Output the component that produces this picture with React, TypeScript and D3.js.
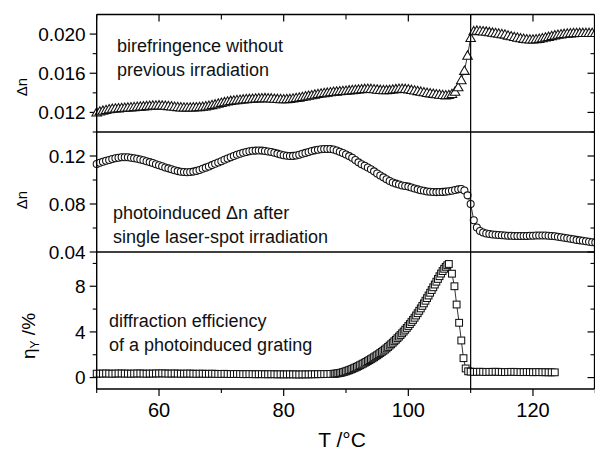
import React from 'react';
import * as d3 from 'd3';

const W = 595;
const H = 452;

// Temperature axis (°C)
const T_DOMAIN: [number, number] = [50, 130];
const T_MAJOR = [60, 80, 100, 120];
const T_MINOR = [50, 70, 90, 110, 130];
const T_LABELS = ['60', '80', '100', '120'];
const T_CLEARING = 110;

// Heating scan grid: 50 → 130 °C in 0.5 °C steps
const SCAN_START = 50;
const SCAN_STEP = 0.5;

// Birefringence without previous irradiation (Δn)
const birefringence = [
  0.01200, 0.01210, 0.01218, 0.01225, 0.01233, 0.01238, 0.01240, 0.01242, 0.01245, 0.01248,
  0.01250, 0.01252, 0.01255, 0.01258, 0.01260, 0.01262, 0.01265, 0.01268, 0.01270, 0.01270,
  0.01272, 0.01270, 0.01268, 0.01265, 0.01262, 0.01258, 0.01255, 0.01252, 0.01250, 0.01250,
  0.01250, 0.01252, 0.01253, 0.01255, 0.01258, 0.01262, 0.01268, 0.01275, 0.01282, 0.01290,
  0.01298, 0.01305, 0.01312, 0.01318, 0.01322, 0.01326, 0.01330, 0.01333, 0.01336, 0.01338,
  0.01340, 0.01342, 0.01344, 0.01345, 0.01346, 0.01345, 0.01343, 0.01340, 0.01338, 0.01336,
  0.01335, 0.01336, 0.01338, 0.01342, 0.01347, 0.01352, 0.01358, 0.01364, 0.01370, 0.01376,
  0.01382, 0.01388, 0.01393, 0.01398, 0.01402, 0.01406, 0.01410, 0.01413, 0.01416, 0.01419,
  0.01422, 0.01425, 0.01428, 0.01431, 0.01434, 0.01437, 0.01440, 0.01441, 0.01440, 0.01437,
  0.01433, 0.01430, 0.01428, 0.01428, 0.01430, 0.01434, 0.01438, 0.01441, 0.01442, 0.01440,
  0.01436, 0.01430, 0.01424, 0.01418, 0.01412, 0.01406, 0.01400, 0.01395, 0.01390, 0.01386,
  0.01382, 0.01378, 0.01375, 0.01378, 0.01388, 0.01412, 0.01458, 0.01530, 0.01625, 0.01780,
  0.01960, 0.02030, 0.02035, 0.02032, 0.02028, 0.02025, 0.02020, 0.02015, 0.02010, 0.02005,
  0.02000, 0.01995, 0.01985, 0.01978, 0.01970, 0.01964, 0.01958, 0.01952, 0.01948, 0.01945,
  0.01945, 0.01948, 0.01952, 0.01958, 0.01965, 0.01972, 0.01980, 0.01987, 0.01993, 0.01998,
  0.02002, 0.02005, 0.02008, 0.02010, 0.02011, 0.02012, 0.02012, 0.02012, 0.02012, 0.02012,
  0.02012,
];

// Photoinduced Δn after single laser-spot irradiation
const photoinduced = [
  0.1133, 0.1143, 0.1152, 0.1160, 0.1167, 0.1175, 0.1181, 0.1186, 0.1189, 0.1190,
  0.1189, 0.1186, 0.1182, 0.1177, 0.1171, 0.1164, 0.1157, 0.1149, 0.1141, 0.1132,
  0.1123, 0.1114, 0.1105, 0.1097, 0.1089, 0.1081, 0.1074, 0.1069, 0.1066, 0.1065,
  0.1066, 0.1070, 0.1076, 0.1084, 0.1093, 0.1103, 0.1113, 0.1124, 0.1135, 0.1146,
  0.1157, 0.1168, 0.1179, 0.1190, 0.1200, 0.1210, 0.1219, 0.1227, 0.1234, 0.1239,
  0.1243, 0.1245, 0.1246, 0.1245, 0.1242, 0.1238, 0.1233, 0.1227, 0.1220, 0.1213,
  0.1207, 0.1202, 0.1200, 0.1201, 0.1205, 0.1211, 0.1218, 0.1226, 0.1234, 0.1241,
  0.1247, 0.1252, 0.1256, 0.1258, 0.1259, 0.1258, 0.1254, 0.1246, 0.1236, 0.1225,
  0.1212, 0.1199, 0.1185, 0.1167, 0.1147, 0.1132, 0.1118, 0.1104, 0.1090, 0.1072,
  0.1055, 0.1038, 0.1022, 0.1007, 0.0992, 0.0980, 0.0970, 0.0962, 0.0955, 0.0950,
  0.0945, 0.0937, 0.0930, 0.0922, 0.0915, 0.0910, 0.0905, 0.0902, 0.0900, 0.0899,
  0.0900, 0.0901, 0.0903, 0.0906, 0.0910, 0.0916, 0.0922, 0.0925, 0.0912, 0.0872,
  0.0800, 0.0665, 0.0605, 0.0575, 0.0562, 0.0555, 0.0550, 0.0546, 0.0543, 0.0541,
  0.0539, 0.0537, 0.0536, 0.0535, 0.0534, 0.0534, 0.0534, 0.0534, 0.0534, 0.0535,
  0.0536, 0.0537, 0.0538, 0.0538, 0.0537, 0.0536, 0.0534, 0.0531, 0.0527, 0.0523,
  0.0519, 0.0515, 0.0511, 0.0506, 0.0501, 0.0497, 0.0493, 0.0489, 0.0485, 0.0482,
  0.0480,
];

// Diffraction efficiency of the photoinduced grating (%)
// Baseline 50 → 87.5 °C on the 0.5 °C grid
const efficiencyBase = [
  0.34, 0.35, 0.35, 0.36, 0.35, 0.34, 0.35, 0.36, 0.36, 0.35,
  0.35, 0.34, 0.35, 0.36, 0.36, 0.35, 0.34, 0.35, 0.35, 0.36,
  0.36, 0.37, 0.36, 0.35, 0.35, 0.36, 0.35, 0.34, 0.34, 0.35,
  0.35, 0.34, 0.33, 0.34, 0.34, 0.33, 0.33, 0.34, 0.33, 0.32,
  0.32, 0.33, 0.32, 0.31, 0.31, 0.32, 0.31, 0.30, 0.30, 0.31,
  0.30, 0.29, 0.30, 0.30, 0.29, 0.29, 0.30, 0.29, 0.28, 0.29,
  0.28, 0.28, 0.29, 0.28, 0.28, 0.27, 0.28, 0.28, 0.28, 0.29,
  0.29, 0.30, 0.30, 0.31, 0.31, 0.32,
];
// Growth 88 → 106.5 °C, recorded every 0.25 °C
const CLIMB_START = 88;
const CLIMB_STEP = 0.25;
const efficiencyClimb = [
  0.33, 0.34, 0.36, 0.38, 0.40, 0.43, 0.47, 0.51, 0.55, 0.60,
  0.65, 0.70, 0.76, 0.82, 0.88, 0.94, 1.01, 1.08, 1.15, 1.22,
  1.30, 1.37, 1.45, 1.53, 1.61, 1.69, 1.78, 1.87, 1.96, 2.05,
  2.15, 2.25, 2.35, 2.45, 2.56, 2.68, 2.80, 2.92, 3.05, 3.18,
  3.31, 3.45, 3.59, 3.73, 3.88, 4.03, 4.19, 4.35, 4.52, 4.69,
  4.87, 5.05, 5.24, 5.44, 5.64, 5.85, 6.06, 6.28, 6.50, 6.73,
  6.96, 7.19, 7.43, 7.67, 7.91, 8.15, 8.40, 8.64, 8.88, 9.11,
  9.33, 9.53, 9.70, 9.84, 9.95,
];
// Collapse near the clearing point
const efficiencyDropTemps = [107.0, 107.4, 107.75, 108.15, 108.5, 108.85, 109.2, 109.6];
const efficiencyDrop = [9.1, 8.0, 6.4, 4.8, 3.25, 1.7, 0.8, 0.55];
// Isotropic phase, 110 → 123.5 °C
const TAIL_START = 110;
const efficiencyTail = [
  0.52, 0.50, 0.50, 0.51, 0.50, 0.49, 0.50, 0.50, 0.51, 0.50,
  0.49, 0.48, 0.49, 0.50, 0.50, 0.49, 0.48, 0.48, 0.49, 0.48,
  0.47, 0.48, 0.48, 0.47, 0.47, 0.46, 0.46, 0.46,
];

type Pt = [number, number];

const gridSeries = (vals: number[], start: number, step: number): Pt[] =>
  vals.map((v, i) => [start + i * step, v]);

const birefringencePts = gridSeries(birefringence, SCAN_START, SCAN_STEP);
const photoinducedPts = gridSeries(photoinduced, SCAN_START, SCAN_STEP);
const efficiencyPts: Pt[] = [
  ...gridSeries(efficiencyBase, SCAN_START, SCAN_STEP),
  ...gridSeries(efficiencyClimb, CLIMB_START, CLIMB_STEP),
  ...efficiencyDrop.map((v, i) => [efficiencyDropTemps[i], v] as Pt),
  ...gridSeries(efficiencyTail, TAIL_START, SCAN_STEP),
];

// Panel layout and y-axes
const panels = [
  {
    key: 'bire',
    top: 14.5,
    bottom: 132,
    domain: [0.010, 0.022],
    major: [0.012, 0.016, 0.020],
    minor: [0.010, 0.014, 0.018],
    tickText: ['0.012', '0.016', '0.020'],
    pts: birefringencePts,
    marker: 'triangle',
    text: ['birefringence without', 'previous irradiation'],
    textX: 117,
    textY: 52,
  },
  {
    key: 'photo',
    top: 132,
    bottom: 252,
    domain: [0.04, 0.14],
    major: [0.04, 0.08, 0.12],
    minor: [0.06, 0.10],
    tickText: ['0.04', '0.08', '0.12'],
    pts: photoinducedPts,
    marker: 'circle',
    text: ['photoinduced \u0394n after', 'single laser-spot irradiation'],
    textX: 113,
    textY: 219,
  },
  {
    key: 'eff',
    top: 252,
    bottom: 389,
    domain: [-1, 11],
    major: [0, 4, 8],
    minor: [2, 6, 10],
    tickText: ['0', '4', '8'],
    pts: efficiencyPts,
    marker: 'square',
    text: ['diffraction efficiency', 'of a photoinduced grating'],
    textX: 109,
    textY: 327,
  },
];

const FONT = "'Liberation Sans', Arial, Helvetica, sans-serif";

export default function App() {
  const x = d3.scaleLinear().domain(T_DOMAIN).range([96.7, 595.3]);
  const left = x(T_DOMAIN[0]);
  const right = 594.5;
  const plotTop = panels[0].top;
  const plotBottom = panels[2].bottom;
  const triangle = d3.symbol(d3.symbolTriangle, 40)()!;

  const markerFor = (kind: string, cx: number, cy: number, k: number) => {
    const common = { fill: '#fff', stroke: '#111', strokeWidth: 1.05 };
    if (kind === 'circle') return <circle key={k} cx={cx} cy={cy} r={3.5} {...common} />;
    if (kind === 'square')
      return <rect key={k} x={cx - 3.4} y={cy - 3.4} width={6.8} height={6.8} {...common} />;
    return <path key={k} d={triangle} transform={`translate(${cx},${cy + 0.8})`} {...common} />;
  };

  return (
    <svg
      width={W}
      height={H}
      viewBox={`0 0 ${W} ${H}`}
      style={{ position: 'absolute', left: 0, top: 0, background: '#fff' }}
      fontFamily={FONT}
    >
      <rect x={0} y={0} width={W} height={H} fill="#fff" />

      {panels.map((p) => {
        const y = d3.scaleLinear().domain(p.domain).range([p.bottom, p.top]);
        const line = d3
          .line<Pt>()
          .x((d) => x(d[0]))
          .y((d) => y(d[1]));
        return (
          <g key={p.key}>
            {/* y ticks, left (outward) and right (inward) */}
            {p.major.map((v, i) => (
              <g key={`M${i}`}>
                <line x1={left - 7} x2={left} y1={y(v)} y2={y(v)} stroke="#000" strokeWidth={1.2} />
                <line x1={right - 7} x2={right} y1={y(v)} y2={y(v)} stroke="#000" strokeWidth={1.2} />
                <text
                  x={left - 11}
                  y={y(v)}
                  dy="0.36em"
                  textAnchor="end"
                  fontSize={19}
                  fill="#000"
                >
                  {p.tickText[i]}
                </text>
              </g>
            ))}
            {p.minor.map((v, i) => (
              <g key={`m${i}`}>
                <line x1={left - 4} x2={left} y1={y(v)} y2={y(v)} stroke="#000" strokeWidth={1.1} />
                <line x1={right - 4} x2={right} y1={y(v)} y2={y(v)} stroke="#000" strokeWidth={1.1} />
              </g>
            ))}

            {/* series */}
            <path d={line(p.pts) ?? ''} fill="none" stroke="#000" strokeWidth={0.8} />
            {p.pts.map((d, i) => markerFor(p.marker, x(d[0]), y(d[1]), i))}

            {/* annotation */}
            {p.text.map((t, i) => (
              <text key={i} x={p.textX} y={p.textY + i * 24} fontSize={18} fill="#111">
                {t}
              </text>
            ))}
          </g>
        );
      })}

      {/* panel frames */}
      <line x1={left} x2={right} y1={plotTop} y2={plotTop} stroke="#000" strokeWidth={1.3} />
      <line x1={left} x2={right} y1={panels[0].bottom} y2={panels[0].bottom} stroke="#000" strokeWidth={1.4} />
      <line x1={left} x2={right} y1={panels[1].bottom} y2={panels[1].bottom} stroke="#000" strokeWidth={1.4} />
      <line x1={left} x2={right} y1={plotBottom} y2={plotBottom} stroke="#000" strokeWidth={1.4} />
      <line x1={left} x2={left} y1={plotTop} y2={plotBottom} stroke="#000" strokeWidth={1.4} />
      <line x1={right} x2={right} y1={plotTop} y2={plotBottom} stroke="#000" strokeWidth={1.3} />

      {/* clearing temperature marker */}
      <line
        x1={x(T_CLEARING)}
        x2={x(T_CLEARING)}
        y1={plotTop}
        y2={plotBottom}
        stroke="#000"
        strokeWidth={1.2}
      />

      {/* temperature ticks: bottom outward, top inward */}
      {T_MAJOR.map((t, i) => (
        <g key={`tM${i}`}>
          <line x1={x(t)} x2={x(t)} y1={plotBottom} y2={plotBottom + 7} stroke="#000" strokeWidth={1.2} />
          <line x1={x(t)} x2={x(t)} y1={plotTop} y2={plotTop + 7} stroke="#000" strokeWidth={1.2} />
          <text x={x(t)} y={417} textAnchor="middle" fontSize={20} fill="#000">
            {T_LABELS[i]}
          </text>
        </g>
      ))}
      {T_MINOR.map((t, i) => (
        <g key={`tm${i}`}>
          <line x1={x(t)} x2={x(t)} y1={plotBottom} y2={plotBottom + 4} stroke="#000" strokeWidth={1.1} />
          <line x1={x(t)} x2={x(t)} y1={plotTop} y2={plotTop + 5} stroke="#000" strokeWidth={1.1} />
        </g>
      ))}

      {/* axis titles */}
      <text x={342} y={447} textAnchor="middle" fontSize={21} fill="#000">
        T /°C
      </text>
      <text transform="translate(27,87) rotate(-90)" textAnchor="middle" fontSize={15} fill="#000">
        Δn
      </text>
      <text transform="translate(27,200) rotate(-90)" textAnchor="middle" fontSize={15} fill="#000">
        Δn
      </text>
      <text transform="translate(35,336) rotate(-90)" textAnchor="middle" fontSize={19} fill="#000">
        η
        <tspan fontSize={12} dy={4}>
          Y
        </tspan>
        <tspan dy={-4}> /%</tspan>
      </text>
    </svg>
  );
}
